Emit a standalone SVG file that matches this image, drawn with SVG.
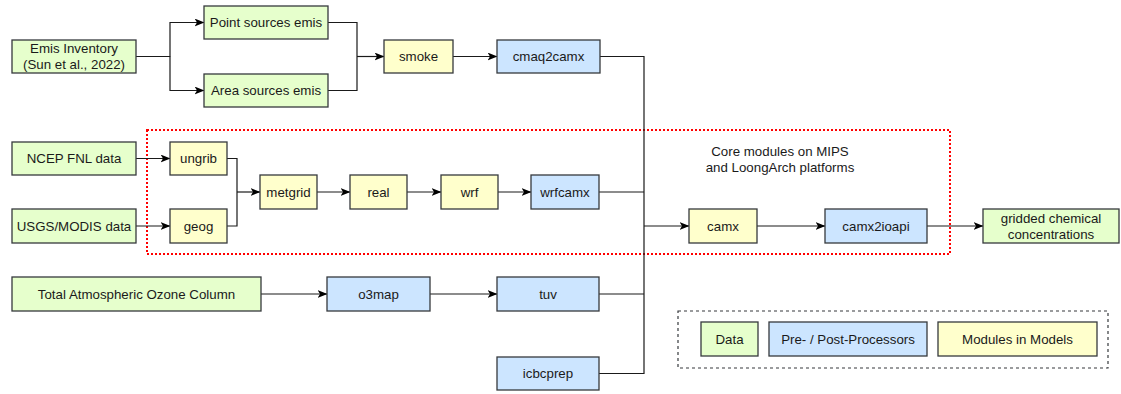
<svg xmlns="http://www.w3.org/2000/svg" width="1121" height="394" viewBox="0 0 1121 394">
  <defs>
    <style>
      .box { stroke: #36393d; stroke-width: 1.3; }
      .data { fill: #e6ffcc; }
      .pre { fill: #cce5ff; }
      .mod { fill: #ffffcc; }
      .lbl { font-family: "Liberation Sans", Arial, Helvetica, sans-serif; font-size: 13.3px; fill: #1a1a1a; text-anchor: middle; dominant-baseline: central; }
      .wire { fill: none; stroke: #1a1a1a; stroke-width: 1.2; }
      .arrow { marker-end: url(#arr); }
    </style>
    <marker id="arr" viewBox="0 0 10 8" refX="9.5" refY="4" markerWidth="10" markerHeight="8" markerUnits="userSpaceOnUse" orient="auto">
      <path d="M0,0 L10,4 L0,8 L2.5,4 Z" fill="#000"/>
    </marker>
  </defs>
  <rect width="1121" height="394" fill="#fff"/>

  <!-- platform frame and legend frame -->
  <g id="core-frame">
    <rect x="147" y="130" width="803" height="124" fill="none" stroke="#ff0000" stroke-width="2" stroke-dasharray="2 2"/>
    <text class="lbl" x="780" y="151">Core modules on MIPS</text>
    <text class="lbl" x="780" y="167">and LoongArch platforms</text>
  </g>

  <!-- connectors -->
  <g id="connectors">
    <path class="wire arrow" d="M136,56.5 H170 V22.5 H204"/>
    <path class="wire arrow" d="M170,56.5 V90.5 H204"/>
    <path class="wire" d="M328,22.5 H357 V90.5 H328"/>
    <path class="wire arrow" d="M357,56.5 H384"/>
    <path class="wire arrow" d="M453,56.5 H497"/>
    <path class="wire" d="M600,56.5 H644 V373.5 H599"/>
    <path class="wire" d="M599,192 H644"/>
    <path class="wire" d="M599,294 H644"/>
    <path class="wire arrow" d="M644,226 H689"/>
    <path class="wire arrow" d="M757,226 H825"/>
    <path class="wire arrow" d="M927,226 H983"/>
    <path class="wire arrow" d="M136,158.5 H170"/>
    <path class="wire arrow" d="M136,226 H170"/>
    <path class="wire" d="M227,158.5 H237 V226 H227"/>
    <path class="wire arrow" d="M237,192 H260"/>
    <path class="wire arrow" d="M317,192 H350"/>
    <path class="wire arrow" d="M407,192 H441"/>
    <path class="wire arrow" d="M498,192 H531"/>
    <path class="wire arrow" d="M261,294 H327"/>
    <path class="wire arrow" d="M430,294 H497"/>
  </g>

  <!-- emission branch -->
  <g id="emis-inventory">
    <rect class="box data" x="12" y="40" width="124" height="33"/>
    <text class="lbl" x="74" y="48.5">Emis Inventory</text>
    <text class="lbl" x="74" y="64.5">(Sun et al., 2022)</text>
  </g>
  <g id="point-sources">
    <rect class="box data" x="204" y="6" width="124" height="33"/>
    <text class="lbl" x="266" y="22.5">Point sources emis</text>
  </g>
  <g id="area-sources">
    <rect class="box data" x="204" y="74" width="124" height="33"/>
    <text class="lbl" x="266" y="90.5">Area sources emis</text>
  </g>
  <g id="smoke">
    <rect class="box mod" x="384" y="40" width="69" height="33"/>
    <text class="lbl" x="418.5" y="56.5">smoke</text>
  </g>
  <g id="cmaq2camx">
    <rect class="box pre" x="497" y="40" width="103" height="33"/>
    <text class="lbl" x="548.5" y="56.5">cmaq2camx</text>
  </g>

  <!-- meteorology branch -->
  <g id="ncep-fnl">
    <rect class="box data" x="12" y="142" width="124" height="33"/>
    <text class="lbl" x="74" y="158.5">NCEP FNL data</text>
  </g>
  <g id="usgs-modis">
    <rect class="box data" x="12" y="209" width="124" height="34"/>
    <text class="lbl" x="74" y="226">USGS/MODIS data</text>
  </g>
  <g id="ungrib">
    <rect class="box mod" x="170" y="142" width="57" height="33"/>
    <text class="lbl" x="198.5" y="158.5">ungrib</text>
  </g>
  <g id="geog">
    <rect class="box mod" x="170" y="209" width="57" height="34"/>
    <text class="lbl" x="198.5" y="226">geog</text>
  </g>
  <g id="metgrid">
    <rect class="box mod" x="260" y="175" width="57" height="34"/>
    <text class="lbl" x="288.5" y="192">metgrid</text>
  </g>
  <g id="real">
    <rect class="box mod" x="350" y="175" width="57" height="34"/>
    <text class="lbl" x="378.5" y="192">real</text>
  </g>
  <g id="wrf">
    <rect class="box mod" x="441" y="175" width="57" height="34"/>
    <text class="lbl" x="469.5" y="192">wrf</text>
  </g>
  <g id="wrfcamx">
    <rect class="box pre" x="531" y="175" width="68" height="34"/>
    <text class="lbl" x="565" y="192">wrfcamx</text>
  </g>

  <!-- chemistry model -->
  <g id="camx">
    <rect class="box mod" x="689" y="209" width="68" height="34"/>
    <text class="lbl" x="723" y="226">camx</text>
  </g>
  <g id="camx2ioapi">
    <rect class="box pre" x="825" y="209" width="102" height="34"/>
    <text class="lbl" x="876" y="226">camx2ioapi</text>
  </g>
  <g id="gridded-output">
    <rect class="box data" x="983" y="209" width="136" height="34"/>
    <text class="lbl" x="1051" y="218">gridded chemical</text>
    <text class="lbl" x="1051" y="234">concentrations</text>
  </g>

  <!-- photolysis and boundary inputs -->
  <g id="ozone-column">
    <rect class="box data" x="12" y="277" width="249" height="34"/>
    <text class="lbl" x="136.5" y="294">Total Atmospheric Ozone Column</text>
  </g>
  <g id="o3map">
    <rect class="box pre" x="327" y="277" width="103" height="34"/>
    <text class="lbl" x="378.5" y="294">o3map</text>
  </g>
  <g id="tuv">
    <rect class="box pre" x="497" y="277" width="102" height="34"/>
    <text class="lbl" x="548" y="294">tuv</text>
  </g>
  <g id="icbcprep">
    <rect class="box pre" x="497" y="357" width="102" height="33"/>
    <text class="lbl" x="548" y="373.5">icbcprep</text>
  </g>

  <!-- legend -->
  <g id="legend">
    <rect x="678" y="311" width="430" height="57" fill="none" stroke="#36393d" stroke-width="1.2" stroke-dasharray="3 3"/>
    <rect class="box data" x="701" y="322" width="57" height="34"/>
    <text class="lbl" x="729.5" y="339">Data</text>
    <rect class="box pre" x="769" y="322" width="158" height="34"/>
    <text class="lbl" x="848" y="339">Pre- / Post-Processors</text>
    <rect class="box mod" x="938" y="322" width="159" height="34"/>
    <text class="lbl" x="1017.5" y="339">Modules in Models</text>
  </g>
</svg>
